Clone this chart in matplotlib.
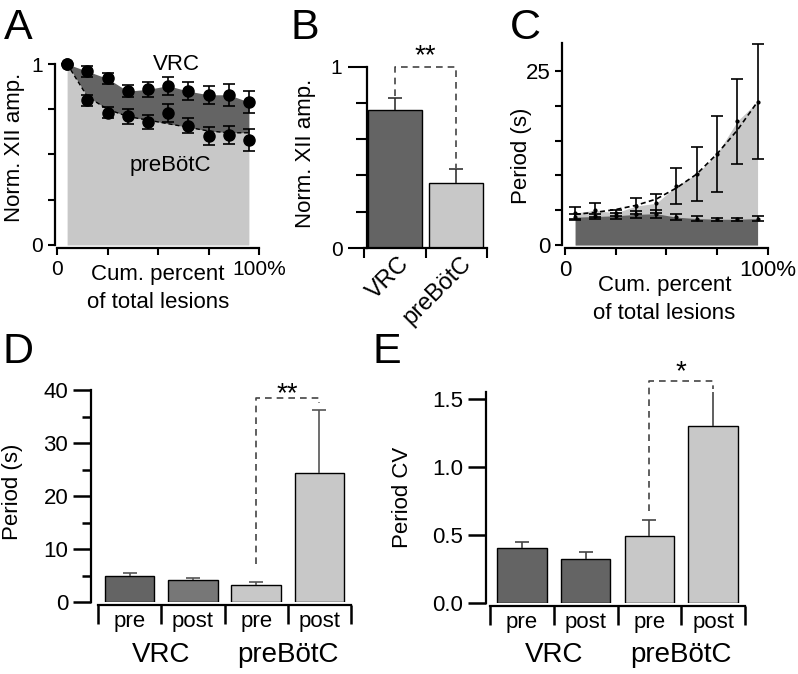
import numpy as np
import matplotlib
matplotlib.use("Agg")
import matplotlib.pyplot as plt

plt.rcParams['font.family'] = ['Liberation Sans', 'DejaVu Sans']
plt.rcParams['axes.linewidth'] = 1.6

# ---- data ----
lesion_pct = [5, 15, 25, 35, 45, 55, 65, 75, 85, 95]

# A: normalised XII amplitude
vrc_amp = [1.0, 0.96, 0.92, 0.85, 0.86, 0.88, 0.85, 0.83, 0.83, 0.79]
vrc_amp_err = [0.0, 0.03, 0.03, 0.035, 0.04, 0.05, 0.05, 0.05, 0.06, 0.06]
pbc_amp = [1.0, 0.80, 0.73, 0.71, 0.68, 0.73, 0.66, 0.60, 0.61, 0.58]
pbc_amp_err = [0.0, 0.03, 0.03, 0.04, 0.04, 0.05, 0.04, 0.05, 0.05, 0.06]
pbc_amp_fit = [1.0, 0.82, 0.75, 0.71, 0.69, 0.67, 0.65, 0.63, 0.62, 0.62]

# B: final amplitude
groups = ['VRC', 'preBötC']
amp_means = [0.76, 0.36]
amp_errs = [0.07, 0.075]

# C: period vs lesion
vrc_period = [4.0, 4.1, 4.2, 4.4, 4.5, 4.0, 3.8, 3.7, 3.7, 3.8]
vrc_period_err = [0.4, 0.4, 0.4, 0.5, 0.6, 0.4, 0.3, 0.2, 0.2, 0.4]
pbc_period = [4.6, 5.0, 4.6, 5.6, 6.0, 8.5, 10.2, 13.1, 17.8, 20.6]
pbc_period_err = [0.8, 1.0, 0.5, 1.1, 1.4, 2.6, 3.9, 5.5, 6.1, 8.3]
pbc_period_fit = [4.4, 4.7, 5.1, 5.7, 6.6, 8.2, 10.2, 13.1, 16.5, 20.6]

# D / E: pre vs post
conds = ['pre', 'post', 'pre', 'post']
period_means = [5.0, 4.1, 3.2, 24.3]
period_errs = [0.45, 0.5, 0.5, 12.0]
cv_means = [0.40, 0.32, 0.49, 1.30]
cv_errs = [0.045, 0.05, 0.12, 0.26]

DARK = '#646464'
LIGHT = '#c8c8c8'
d_colors = [DARK, '#777777', LIGHT, LIGHT]
e_colors = [DARK, DARK, LIGHT, LIGHT]

W, H = 798, 674
fig = plt.figure(figsize=(W / 100, H / 100), dpi=100)


def px_axes(left, top, right, bottom):
    return fig.add_axes([left / W, 1 - bottom / H, (right - left) / W, (bottom - top) / H])


def clean(ax, left_out=2, bottom_out=2, size=15):
    for s in ['top', 'right']:
        ax.spines[s].set_visible(False)
    ax.spines['left'].set_position(('outward', left_out))
    ax.spines['bottom'].set_position(('outward', bottom_out))
    ax.tick_params(width=1.5, labelsize=size)


def ylab(ax, text, xpx, axw, ypos=0.5):
    ax.text(xpx / axw, ypos, text, rotation=90, ha='center', va='center',
            fontsize=16, transform=ax.transAxes)


def up_errors(ax, x, means, errs, color):
    # only the upper half of the error bar, no cap at the bar top
    _, caps, _ = ax.errorbar(x, means, yerr=[[0] * len(errs), errs], fmt='none', ecolor=color,
                             elinewidth=1.2, capsize=5, capthick=1.2)
    caps[0].set_visible(False)


def bracket(ax, x0, x1, y0, y1, ytop, star, ystar):
    ax.plot([x0, x0, x1, x1], [y0, ytop, ytop, y1], ls=(0, (4, 3)), color='#444444',
            lw=1.2, clip_on=False)
    ax.text((x0 + x1) / 2, ystar, star, ha='center', va='center', fontsize=20, clip_on=False)


letter_font = ['Liberation Sans Narrow', 'Liberation Sans', 'DejaVu Sans']
for ch, x, y in [('A', 4, 8), ('B', 290, 8), ('C', 510, 8), ('D', 3, 332), ('E', 372, 332)]:
    fig.text(x / W, 1 - y / H, ch, fontsize=31, ha='left', va='top', family=letter_font)

# ---- A ----
axA = px_axes(57, 64, 259, 245)
axA.fill_between(lesion_pct, 0, pbc_amp_fit, color=LIGHT, lw=0)
axA.fill_between(lesion_pct, pbc_amp_fit, vrc_amp, color=DARK, lw=0)
axA.plot(lesion_pct, pbc_amp_fit, ls=(0, (3, 2)), color='black', lw=1)
for m, e in [(vrc_amp, vrc_amp_err), (pbc_amp, pbc_amp_err)]:
    axA.errorbar(lesion_pct, m, yerr=e, fmt='o', color='black', ms=8, capsize=4.5,
                 elinewidth=1.2, capthick=1.2, clip_on=False)
axA.set_xlim(0, 100)
axA.set_ylim(0, 1)
axA.set_xticks([0, 25, 50, 75, 100])
axA.set_xticklabels(['0', '', '', '', '100%'])
axA.set_yticks([0, 0.25, 0.5, 0.75, 1])
axA.set_yticklabels(['0', '', '', '', '1'])
clean(axA, 1.5, 2)
axA.tick_params(length=5)
axA.text(59, 1.0, 'VRC', ha='center', va='center', fontsize=16)
axA.text(56, 0.44, 'preBötC', ha='center', va='center', fontsize=16)
ylab(axA, 'Norm. XII amp.', 15 - 57, 202, 0.54)
axA.text(0.5, -0.24, 'Cum. percent\nof total lesions', ha='center', va='center',
         fontsize=16, linespacing=1.4, transform=axA.transAxes)

# ---- B ----
axB = px_axes(364, 66.7, 487, 248)
xb = np.arange(len(groups))
axB.bar(xb, amp_means, width=0.88, color=[DARK, LIGHT], edgecolor='black', lw=1)
up_errors(axB, xb, amp_means, amp_errs, '#333333')
axB.set_xlim(-0.5, 1.5)
axB.set_ylim(0, 1)
for s in ['top', 'right']:
    axB.spines[s].set_visible(False)
axB.spines['left'].set_position(('outward', -2))
axB.set_yticks([0, 1])
axB.set_yticklabels(['0', '1'])
axB.set_yticks([0.2, 0.4, 0.6, 0.8], minor=True)
axB.tick_params(axis='y', which='major', length=14, width=1.5, labelsize=15)
axB.tick_params(axis='y', which='minor', length=8, width=1.5)
axB.set_xticks([-0.5, 0.5, 1.5])
axB.set_xticklabels([])
axB.tick_params(axis='x', length=7, width=1.5)
for i, g in enumerate(groups):
    axB.annotate(g, xy=(i, 0), xycoords=('data', 'axes fraction'), xytext=(8, -9),
                 textcoords='offset points', rotation=45, rotation_mode='anchor',
                 ha='right', va='center', fontsize=17)
bracket(axB, 0, 1, amp_means[0] + amp_errs[0] + 0.01, amp_means[1] + amp_errs[1] + 0.005,
        1.0, '**', 1.06)
ylab(axB, 'Norm. XII amp.', 306 - 364, 123, 0.52)

# ---- C ----
axC = px_axes(565, 43.3, 767.7, 245)
axC.fill_between(lesion_pct, 0, pbc_period, color=LIGHT, lw=0)
axC.fill_between(lesion_pct, 0, vrc_period, color=DARK, lw=0)
axC.plot(lesion_pct, pbc_period_fit, ls=(0, (3, 2)), color='black', lw=1.2)
for m, e in [(vrc_period, vrc_period_err), (pbc_period, pbc_period_err)]:
    axC.errorbar(lesion_pct, m, yerr=e, fmt='.', color='black', ms=4, capsize=4.5,
                 elinewidth=1.2, capthick=1.2, clip_on=False)
axC.set_xlim(0, 100)
axC.set_ylim(0, 29)
axC.set_xticks([0, 25, 50, 75, 100])
axC.set_xticklabels(['0', '', '', '', '100%'])
axC.set_yticks([0, 5, 10, 15, 20, 25])
axC.set_yticklabels(['0', '', '', '', '', '25'])
clean(axC, 2, 2.4, 16)
axC.tick_params(length=5)
ylab(axC, 'Period (s)', 521 - 565, 202.7, 0.44)
axC.text(0.49, -0.27, 'Cum. percent\nof total lesions', ha='center', va='center',
         fontsize=16, linespacing=1.4, transform=axC.transAxes)


def prepost(ax, means, errs, colors, err_color):
    x = np.arange(len(means))
    ax.bar(x, means, width=0.78, color=colors, edgecolor='black', lw=1)
    up_errors(ax, x, means, errs, err_color)
    ax.set_xlim(-0.5, len(means) - 0.5)
    ax.set_xticks(np.arange(len(means) + 1) - 0.5)
    ax.set_xticklabels([])
    for i, c in enumerate(conds):
        ax.annotate(c, xy=(i, 0), xycoords=('data', 'axes fraction'), xytext=(0, -14),
                    textcoords='offset points', ha='center', va='center', fontsize=16)
    for xg, g in [(0.5, groups[0]), (2.5, groups[1])]:
        ax.annotate(g, xy=(xg, 0), xycoords=('data', 'axes fraction'), xytext=(0, -38),
                    textcoords='offset points', ha='center', va='center', fontsize=20)


# ---- D ----
axD = px_axes(98, 390, 351, 602)
prepost(axD, period_means, period_errs, d_colors, '#555555')
axD.set_ylim(0, 40)
clean(axD, 5, 2, 16)
axD.set_yticks([0, 10, 20, 30, 40])
axD.set_yticks([5, 15, 25, 35], minor=True)
axD.tick_params(axis='y', which='major', length=13, width=1.8)
axD.tick_params(axis='y', which='minor', length=6.5, width=1.8)
axD.tick_params(axis='x', length=14, width=1.8)
bracket(axD, 2, 3, 7.2, period_means[3] + period_errs[3] + 1.3, 38.5, '**', 39.3)
ylab(axD, 'Period (s)', 13 - 98, 253, 0.52)

# ---- E ----
axE = px_axes(490, 391.7, 745, 602.7)
prepost(axE, cv_means, cv_errs, e_colors, '#444444')
axE.set_ylim(0, 1.55)
clean(axE, 3, 2.4, 16)
axE.set_yticks([0, 0.5, 1.0, 1.5])
axE.set_yticklabels(['0.0', '0.5', '1.0', '1.5'])
axE.tick_params(axis='y', length=13, width=1.8)
axE.tick_params(axis='x', length=14, width=1.8)
bracket(axE, 2, 3, 0.67, cv_means[3] + cv_errs[3] + 0.01, 1.63, '*', 1.69)
ylab(axE, 'Period CV', 402 - 490, 255, 0.5)

fig.savefig('out.png', dpi=100)
